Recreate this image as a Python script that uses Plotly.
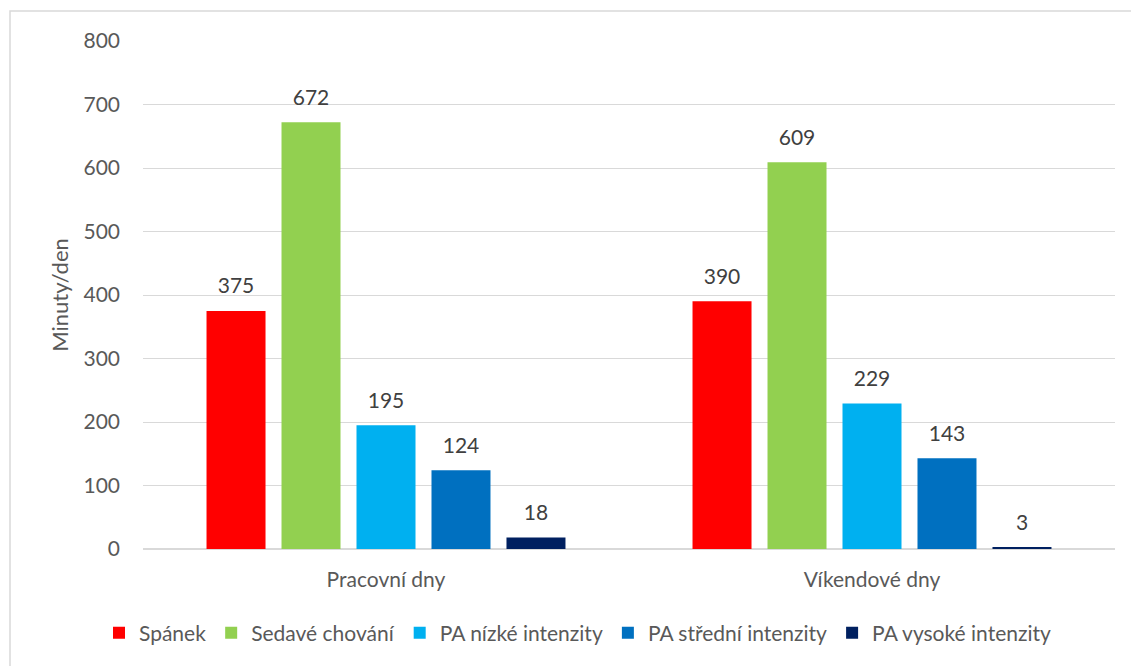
import plotly.graph_objects as go

categories = ["Pracovní dny", "Víkendové dny"]
series_names = ["Spánek", "Sedavé chování", "PA nízké intenzity",
                "PA střední intenzity", "PA vysoké intenzity"]
spanek = [375, 390]
sedave = [672, 609]
pa_nizke = [195, 229]
pa_stredni = [124, 143]
pa_vysoke = [18, 3]
y_ticks = [0, 100, 200, 300, 400, 500, 600, 700, 800]

colors = ["#FF0000", "#92D050", "#00B0F0", "#0070C0", "#002060"]
values = [spanek, sedave, pa_nizke, pa_stredni, pa_vysoke]

FONT = "Lato, 'Open Sans', sans-serif"
W, H = 1131, 666
L, R, T, B = 143, 16, 41, 117
pw, ph = W - L - R, H - T - B

# bar geometry in category units (one category = 1.0)
pitch = 0.1543
bar_w = 0.1214
n = len(series_names)

fig = go.Figure()
for i, (name, vals, col) in enumerate(zip(series_names, values, colors)):
    xs = [k + (i - (n - 1) / 2) * pitch for k in range(len(categories))]
    fig.add_trace(go.Bar(
        name=name, x=xs, y=vals, width=bar_w, marker_color=col,
        marker_line_width=0, hoverinfo="y",
    ))
    fig.add_trace(go.Scatter(
        x=xs, y=vals, mode="markers+text", text=[str(v) for v in vals],
        textposition="top center", showlegend=False, hoverinfo="skip",
        marker=dict(size=18, opacity=0),
        textfont=dict(size=21, color="#404040", family=FONT),
        cliponaxis=False,
    ))

fig.update_layout(
    width=W, height=H,
    margin=dict(l=L, r=R, t=T, b=B),
    paper_bgcolor="white", plot_bgcolor="white",
    barmode="overlay",
    font=dict(family=FONT, color="#595959", size=21),
    showlegend=True,
    legend=dict(orientation="h", x=(578 - L) / pw, xanchor="center",
                y=(549 - 633) / ph, yanchor="middle",
                font=dict(size=21, color="#595959"), itemwidth=30,
                traceorder="normal"),
    xaxis=dict(range=[-0.5, 1.5], tickvals=list(range(len(categories))),
               ticktext=categories, showgrid=False, showline=False,
               zeroline=False, ticks="", ticklabelstandoff=16,
               tickfont=dict(size=21, color="#595959")),
    yaxis=dict(range=[0, 800], tickvals=y_ticks, showgrid=True,
               gridcolor="#D9D9D9", gridwidth=1, zeroline=True,
               zerolinecolor="#D9D9D9", zerolinewidth=2, showline=False,
               ticks="", ticklabelstandoff=22,
               tickfont=dict(size=21, color="#595959"),
               title=dict(text="Minuty/den", font=dict(size=22, color="#595959"),
                          standoff=8)),
    shapes=[dict(type="rect", xref="paper", yref="paper",
                 x0=(10 - L) / pw, x1=1.05, y0=-0.4, y1=1 + (T - 11) / ph,
                 line=dict(color="#D9D9D9", width=1.5), fillcolor="rgba(0,0,0,0)",
                 layer="below")],
)

fig.write_html("out.html")
